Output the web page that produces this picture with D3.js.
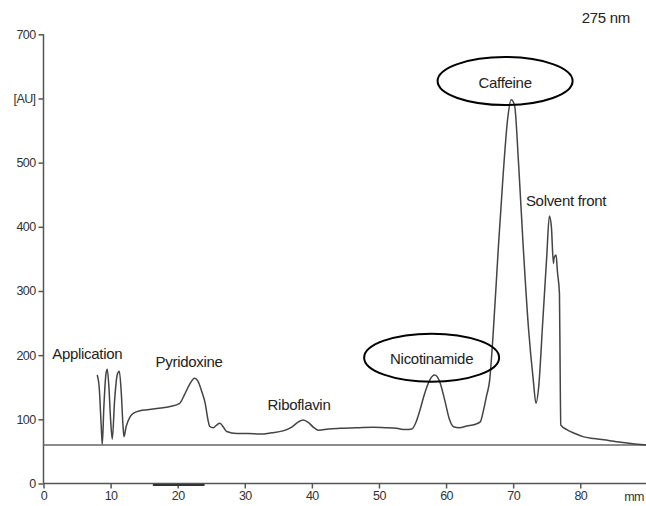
<!DOCTYPE html>
<meta charset="utf-8">
<style>
body { margin: 0; background: #fff; }
text { font-family: "Liberation Sans", Arial, sans-serif; fill: #222; }
.axis path, .axis line { stroke: #555; stroke-width: 1.5px; }
.axis text { font-size: 12.5px; letter-spacing: -0.6px; fill: #333; }
.trace { fill: none; stroke: #444; stroke-width: 1.5px; }
.base { stroke: #666; stroke-width: 1.4px; }
.label { font-size: 15px; letter-spacing: -0.3px; }
.ring { fill: none; stroke: #000; stroke-width: 2px; }
</style>
<svg width="646" height="506"></svg>
<script src="https://d3js.org/d3.v7.min.js"></script>
<script>

// densitogram at 275 nm: migration distance (mm) vs absorbance (AU)
var distance = [8.0, 8.3, 8.6, 8.76, 9.0, 9.3, 9.5, 9.75, 10.0, 10.25, 10.6, 11.0, 11.3, 11.6, 11.85, 12.0,
  12.3, 12.9, 13.5, 14.4, 15.5, 16.9, 18.9, 20.3, 21.0, 21.8, 22.5, 23.0, 23.6, 24.1, 24.5, 24.8,
  25.3, 25.8, 26.3, 26.8, 27.3, 28.8, 30.5, 32.3, 34.0, 35.7, 37.0, 38.0, 38.7, 39.5, 40.3, 41.0,
  42.5, 44.2, 47.0, 49.2, 51.0, 52.6, 54.0, 54.9, 55.5, 56.1, 56.8, 57.6, 58.3, 59.0, 59.8, 60.5,
  61.1, 62.0, 63.1, 64.3, 65.1, 65.6, 66.0, 66.5, 67.0, 67.8, 68.5, 69.2, 69.7, 70.2, 70.8, 71.5,
  72.3, 73.0, 73.4, 73.8, 74.4, 75.0, 75.4, 75.7, 76.0, 76.1, 76.4, 76.6, 76.9, 77.0, 77.1, 78.0,
  79.2, 80.4, 82.0, 83.5, 85.4, 87.0, 88.5, 89.8];
var absorbance = [169, 150, 90, 61, 120, 170, 178, 150, 100, 69, 130, 170, 175, 140, 90, 73,
  88, 104, 110, 113.5, 115, 117, 120, 125, 138, 155, 164, 160, 143, 125, 100, 88.5,
  87, 91, 94, 88, 81, 78, 78, 77, 79, 82, 88, 96, 99, 95, 87, 83,
  85, 86, 87, 87.6, 87, 86, 84, 85, 95, 114, 140, 162, 169, 160, 130, 100,
  88.5, 87, 89.6, 92, 96, 115, 135, 161, 230, 369, 480, 570, 598, 590, 500, 369,
  240, 161, 125, 150, 250, 353, 417, 400, 343, 352, 356, 330, 296, 180, 91, 84,
  78, 73, 70, 68, 65, 63, 61, 60];

var baselineAU = 60;
var yTicks = [0, 100, 200, 300, 400, 500, 600, 700];
var xTicks = [0, 10, 20, 30, 40, 50, 60, 70, 80];

// peak labels: text, distance (mm), absorbance (AU), circled?
var peakNames = ["Application", "Pyridoxine", "Riboflavin", "Nicotinamide", "Caffeine", "Solvent front"];
var peakMm = [1.3, 16.7, 33.4, 57.85, 68.8, 71.9];
var peakAU = [194, 182, 114.5, 186, 617, 432];
var peakAnchor = ["start", "start", "start", "middle", "middle", "start"];
var peakCircled = [false, false, false, true, true, false];

var svg = d3.select("svg");

var x = d3.scaleLinear().domain([0, 89.8]).range([43.5, 646]);
var y = d3.scaleLinear().domain([0, 700]).range([483.5, 34.3]);

// axes
var yAxis = d3.axisLeft(y).tickValues(yTicks).tickSize(5).tickPadding(3)
    .tickFormat(function(d) { return d === 600 ? "[AU]" : d; });
svg.append("g").attr("class", "axis")
    .attr("transform", "translate(" + x(0) + ",0)")
    .call(yAxis)
    .call(function(g) { g.select(".domain").attr("d", "M0," + y(700) + "V" + y(0)); });

var xAxis = d3.axisBottom(x).tickValues(xTicks).tickSize(5).tickPadding(3);
svg.append("g").attr("class", "axis")
    .attr("transform", "translate(0," + y(0) + ")")
    .call(xAxis)
    .call(function(g) { g.select(".domain").attr("d", "M" + x(0) + ",0H646"); });

svg.append("text")
    .attr("x", 634).attr("y", y(0) + 17)
    .attr("text-anchor", "middle")
    .style("font-size", "12.5px").style("letter-spacing", "-0.6px").style("fill", "#333")
    .text("mm");

// darker stretch under the x axis
svg.append("line")
    .attr("x1", x(16.3)).attr("x2", x(24))
    .attr("y1", y(0) + 1.5).attr("y2", y(0) + 1.5)
    .attr("stroke", "#333").attr("stroke-width", 2);

// baseline
svg.append("line").attr("class", "base")
    .attr("x1", x(0)).attr("x2", 646)
    .attr("y1", y(baselineAU)).attr("y2", y(baselineAU));

// trace
var pts = distance.map(function(d, i) { return [d, absorbance[i]]; });
var line = d3.line()
    .x(function(d) { return x(d[0]); })
    .y(function(d) { return y(d[1]); })
    .curve(d3.curveMonotoneX);
svg.append("path").attr("class", "trace").attr("d", line(pts));

// labels
peakNames.forEach(function(name, i) {
  var px = x(peakMm[i]), py = y(peakAU[i]);
  if (peakCircled[i]) {
    svg.append("ellipse").attr("class", "ring")
        .attr("cx", px).attr("cy", py - 6.5)
        .attr("rx", 67.5).attr("ry", 24);
  }
  svg.append("text").attr("class", "label")
      .attr("x", px).attr("y", py)
      .attr("text-anchor", peakAnchor[i])
      .text(name);
});

svg.append("text").attr("class", "label")
    .attr("x", 630).attr("y", 23).attr("text-anchor", "end")
    .text("275 nm");

</script>
